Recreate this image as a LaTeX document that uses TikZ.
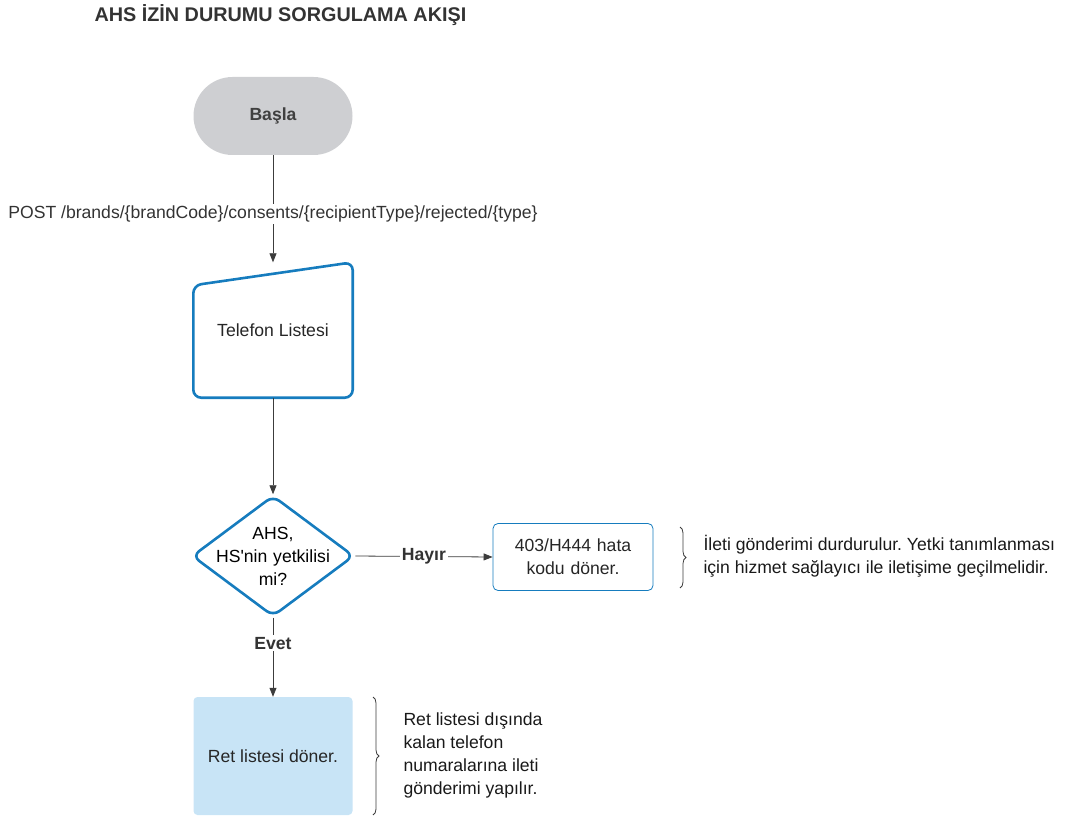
\documentclass[tikz,border=0pt]{standalone}
\usepackage{fontspec}
\setmainfont{Liberation Sans}
\usetikzlibrary{shapes.geometric, arrows.meta, positioning, decorations.pathreplacing}
\definecolor{startGray}{RGB}{206, 207, 210}
\definecolor{flowBlue}{RGB}{22, 124, 190}
\definecolor{retBlue}{RGB}{200, 228, 246}
\definecolor{lineGray}{RGB}{60, 60, 60}
\newcommand{\flowfont}{\fontsize{17.6}{23}\selectfont}
\frenchspacing
\tikzset{
    % Base style for all blocks
    block/.style={
        rectangle,
        minimum width=159pt,
        text centered,
        font=\flowfont,
        text=black!85
    },
    % Specific styles
    startStage/.style={block, rounded corners=39pt, minimum height=78pt, fill=startGray, font=\bfseries\flowfont, text=black!75},
    decisionStage/.style={diamond, aspect=1.34, minimum width=156pt, minimum height=116pt, inner sep=-12pt, draw=flowBlue, line width=2.6pt, rounded corners=8pt, text width=140pt, align=center, font=\flowfont},
    errorStage/.style={block, minimum width=160pt, minimum height=67pt, text width=150pt, draw=flowBlue, line width=0.8pt, rounded corners=5pt},
    outcomeStage/.style={block, minimum height=118pt, fill=retBlue, rounded corners=4pt},
    % Arrow and Label styles
    arrow/.style={-{Triangle[length=9pt,width=7pt]}, draw=lineGray, line width=0.8pt},
    note/.style={font=\flowfont, align=left, anchor=west, text=black!90},
    flowLabel/.style={font=\bfseries\flowfont, fill=white, text=black!80, inner sep=2pt},
    noteBrace/.style={decorate, decoration={brace, amplitude=6pt}, draw=lineGray, line width=0.8pt}
}
\begin{document}
\begin{tikzpicture}[x=1pt, y=-1pt]
    \useasboundingbox (0,0) rectangle (1071,821);

    % --- Title ---
    \node (title) [anchor=west, font=\bfseries\fontsize{19.8}{22}\selectfont, text=black!80] at (91,15) {AHS İZİN DURUMU SORGULAMA AKIŞI};

    % --- Main column ---
    \node (start) [startStage] at (273,116) {Başla};

    \node (list) [block, minimum height=135pt] at (273,330) {Telefon Listesi};
    \draw [flowBlue, line width=2.6pt, rounded corners=8pt]
        (list.south west) -- ([yshift=-23pt]list.north west) -- (list.north east) -- (list.south east) -- cycle;

    \node (check) [decisionStage] at (273,556) {AHS,\\HS\textquotesingle nin yetkilisi\\mi?};

    \node (ret) [outcomeStage] at (273,756) {Ret listesi döner.};

    % --- Right branch ---
    \node (error) [errorStage] at (573,557) {403/H444 hata\\kodu döner.};

    % --- Notes ---
    \node (errNote) [note] at (700,556) {İleti gönderimi durdurulur. Yetki tanımlanması\\için hizmet sağlayıcı ile iletişime geçilmelidir.};
    \draw [noteBrace] (680,527) -- (680,588);

    \node (retNote) [note] at (400,755) {Ret listesi dışında\\kalan telefon\\numaralarına ileti\\gönderimi yapılır.};
    \draw [noteBrace] (373,697) -- (373,815);

    % --- Arrows ---
    \draw [arrow] (start) -- node [flowLabel, font=\flowfont, pos=0.55] {POST /brands/\{brandCode\}/consents/\{recipientType\}/rejected/\{type\}} (list.north);
    \draw [arrow] (list) -- (check);
    \draw [arrow] (check.east) -- node [flowLabel, pos=0.5] {Hayır} (error.west);
    \draw [arrow] (check) -- node [flowLabel, pos=0.32] {Evet} (ret);
\end{tikzpicture}
\end{document}
